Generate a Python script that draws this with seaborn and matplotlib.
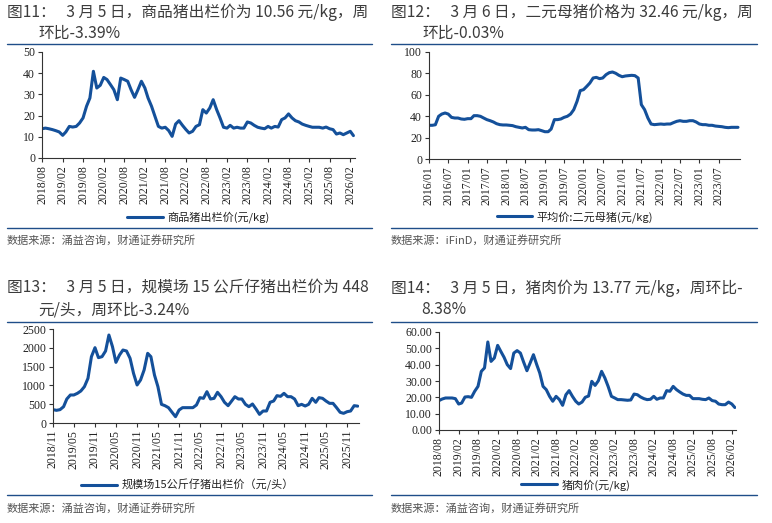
import matplotlib
matplotlib.use('Agg')
import matplotlib.pyplot as plt
import matplotlib.dates as mdates
from matplotlib.lines import Line2D
import numpy as np
import pandas as pd
import seaborn as sns

W, H = 772, 523

# 图11 商品猪出栏价（元/kg），2018/08 起逐月
hog_start = '2018-08-01'
hog_price = [13.8, 14.1, 13.8, 13.4, 12.9, 12.3, 10.7, 12.3, 14.9, 14.6, 14.9, 16.5,
             18.9, 24.4, 28.3, 40.9, 33.0, 34.3, 38.0, 37.0, 34.6, 32.2, 27.5, 37.7,
             37.0, 36.2, 32.2, 28.6, 32.2, 36.2, 33.0, 28.3, 24.4, 19.7, 14.9, 14.1,
             14.5, 12.9, 10.2, 16.0, 17.6, 15.4, 13.4, 11.8, 12.6, 14.9, 15.7, 22.8,
             21.2, 23.6, 27.5, 22.8, 18.9, 14.5, 14.1, 15.4, 14.1, 14.5, 14.1, 14.1,
             17.0, 16.5, 15.4, 14.5, 14.1, 13.8, 14.9, 14.1, 14.9, 14.6, 18.1, 18.9,
             20.8, 18.9, 17.6, 17.0, 16.0, 15.4, 14.9, 14.5, 14.5, 14.5, 14.1, 14.6,
             13.8, 13.4, 11.3, 11.8, 11.0, 11.8, 12.6, 10.56]

# 图12 平均价:二元母猪（元/kg），2016/01 起逐月
sow_start = '2016-01-01'
sow_price = [31.5, 31.5, 32.0, 39.9, 42.0, 43.0, 42.0, 38.9, 38.3, 38.3, 37.4, 37.1,
             37.7, 37.7, 40.5, 40.5, 39.9, 38.3, 36.8, 35.8, 34.6, 33.0, 32.1, 31.8,
             31.8, 31.5, 31.2, 30.2, 29.6, 29.0, 29.6, 27.4, 27.1, 27.1, 27.4, 26.5,
             25.5, 25.5, 28.0, 36.8, 36.8, 37.4, 38.9, 39.9, 42.0, 46.1, 53.9, 63.9,
             64.8, 67.9, 71.0, 75.7, 76.3, 75.1, 75.7, 78.8, 80.7, 81.3, 80.1, 78.2,
             76.9, 77.6, 77.9, 78.2, 77.9, 75.7, 50.8, 46.1, 38.3, 32.7, 32.1, 32.4,
             32.7, 32.4, 32.7, 32.7, 34.0, 35.2, 35.8, 35.2, 35.2, 35.8, 35.8, 34.6,
             32.7, 32.1, 32.1, 31.5, 31.5, 30.8, 30.5, 30.2, 29.6, 29.3, 29.6, 29.6,
             29.6]

# 图13 规模场15公斤仔猪出栏价（元/头），2018/11 起逐月
piglet_start = '2018-11-01'
piglet_price = [355, 337, 355, 434, 638, 745, 745, 789, 851, 966, 1188, 1764,
                2003, 1738, 1764, 1915, 2340, 2030, 1613, 1808, 1941, 1915, 1720, 1321,
                1011, 1144, 1410, 1853, 1764, 1277, 966, 496, 461, 408, 284, 168,
                346, 408, 408, 408, 408, 479, 674, 656, 833, 638, 656, 816,
                700, 550, 461, 585, 700, 638, 638, 496, 434, 505, 372, 230,
                319, 319, 550, 585, 727, 709, 789, 700, 700, 638, 461, 496,
                452, 496, 656, 550, 674, 656, 585, 523, 523, 408, 284, 257,
                301, 319, 461, 448]

# 图14 猪肉价（元/kg），2018/08 起逐月
pork_start = '2018-08-01'
pork_price = [18.0, 19.0, 19.6, 19.6, 19.6, 19.2, 15.9, 16.5, 20.2, 20.4, 20.0, 23.7,
              26.7, 35.9, 38.0, 53.9, 42.0, 44.1, 51.8, 48.2, 44.5, 40.0, 37.6, 47.1,
              48.6, 47.1, 41.6, 36.3, 41.0, 46.1, 40.0, 34.9, 26.7, 24.7, 20.6, 17.6,
              20.6, 18.6, 15.1, 21.6, 24.1, 20.6, 17.6, 15.9, 17.1, 20.0, 20.8, 29.8,
              27.3, 30.2, 35.9, 31.8, 26.7, 20.6, 19.6, 18.6, 18.6, 18.4, 18.2, 18.4,
              22.0, 21.6, 20.2, 19.2, 18.6, 18.8, 20.6, 18.8, 19.6, 19.6, 24.1, 23.7,
              26.7, 24.7, 23.3, 22.0, 21.2, 21.2, 19.2, 19.2, 19.2, 18.8, 18.6, 19.6,
              18.0, 17.6, 15.9, 15.5, 15.5, 17.1, 15.9, 13.77]

titles = [
    ('图11：   3 月 5 日，商品猪出栏价为 10.56 元/kg，周', '环比-3.39%'),
    ('图12：   3 月 6 日，二元母猪价格为 32.46 元/kg，周', '环比-0.03%'),
    ('图13：   3 月 5 日，规模场 15 公斤仔猪出栏价为 448', '元/头，周环比-3.24%'),
    ('图14：   3 月 5 日，猪肉价为 13.77 元/kg，周环比-', '8.38%'),
]
legend_labels = ['商品猪出栏价(元/kg)', '平均价:二元母猪(元/kg)',
                 '规模场15公斤仔猪出栏价（元/头）', '猪肉价(元/kg)']
sources = ['数据来源：涌益咨询，财通证券研究所', '数据来源：iFinD，财通证券研究所',
           '数据来源：涌益咨询，财通证券研究所', '数据来源：涌益咨询，财通证券研究所']

sns.set_style('ticks')
plt.rcParams['font.family'] = ['Noto Sans CJK SC', 'DejaVu Sans']

LINE = '#14509A'
RULE = '#1F4E89'
TXT = '#3C3C3C'

fig = plt.figure(figsize=(W / 100, H / 100), dpi=100)


def px(x, y):
    return x / W, 1 - y / H


def rule(x0, x1, y):
    fig.add_artist(Line2D([x0 / W, x1 / W], [1 - y / H] * 2, transform=fig.transFigure,
                          color=RULE, lw=1.0))


def panel(box, start, values, yticks, yfmt, tick_start, tick_end, xmax, label, leg_xy):
    l, r, t, b = box
    ax = fig.add_axes([l / W, 1 - b / H, (r - l) / W, (b - t) / H])
    df = pd.DataFrame({'date': pd.date_range(start, periods=len(values), freq='MS'),
                       'value': values})
    sns.lineplot(data=df, x='date', y='value', ax=ax, color=LINE, lw=2.2, label=label)
    ax.set_xlim(pd.Timestamp(start), pd.Timestamp(xmax))
    ax.set_ylim(yticks[0], yticks[-1])
    ax.set_yticks(yticks)
    ax.set_yticklabels([yfmt.format(v) for v in yticks])
    ax.set_xticks(pd.date_range(tick_start, tick_end, freq='6MS'))
    ax.xaxis.set_major_formatter(mdates.DateFormatter('%Y/%m'))
    ax.set_xlabel('')
    ax.set_ylabel('')
    for s in ['top', 'right']:
        ax.spines[s].set_visible(False)
    for s in ['left', 'bottom']:
        ax.spines[s].set_color('#333333')
        ax.spines[s].set_linewidth(0.8)
    ax.tick_params(axis='both', direction='out', length=3, width=0.8, color='#333333',
                   labelsize=8.5, labelcolor='#222222', pad=2)
    plt.setp(ax.get_xticklabels(), rotation=90, family='Liberation Serif')
    plt.setp(ax.get_yticklabels(), family='Liberation Serif')
    ax.legend(loc='center', bbox_to_anchor=leg_xy, frameon=False, fontsize=8,
              handlelength=3.2, handletextpad=0.4, labelcolor='#222222')
    return ax


panel((42, 355, 52, 158), hog_start, hog_price, [0, 10, 20, 30, 40, 50], '{:d}',
      '2018-08-01', '2026-02-01', '2026-03-15', legend_labels[0], (0.5, -0.557))
panel((429, 740, 52, 159), sow_start, sow_price, [0, 20, 40, 60, 80, 100], '{:d}',
      '2016-01-01', '2023-07-01', '2024-01-20', legend_labels[1], (0.47, -0.542))
panel((53, 359, 329, 423), piglet_start, piglet_price, [0, 500, 1000, 1500, 2000, 2500],
      '{:d}', '2018-11-01', '2025-11-01', '2026-02-12', legend_labels[2], (0.44, -0.66))
panel((439, 736, 332, 430), pork_start, pork_price, [0, 10, 20, 30, 40, 50, 60], '{:.2f}',
      '2018-08-01', '2026-02-01', '2026-03-12', legend_labels[3], (0.46, -0.561))

# 标题、分隔线、数据来源
layout = [(7, 38, 12, 33, 7, 372, 44, 228, 240),
          (391, 422, 12, 33, 391, 757, 44, 228, 240),
          (7, 38, 287, 310, 7, 372, 322, 495, 508),
          (391, 421, 288, 310, 391, 757, 322, 495, 508)]
for (line1, line2), src, (tx, tx2, ty1, ty2, rx0, rx1, ry_top, ry_bot, sy) in zip(titles, sources, layout):
    fig.text(*px(tx, ty1), line1, fontsize=11.3, color=TXT, va='center', ha='left')
    fig.text(*px(tx2, ty2), line2, fontsize=11.3, color=TXT, va='center', ha='left')
    rule(rx0, rx1, ry_top)
    rule(rx0, rx1, ry_bot)
    fig.text(*px(rx0, sy), src, fontsize=8, color='#555555', va='center', ha='left')

fig.savefig('out.png', dpi=100)
